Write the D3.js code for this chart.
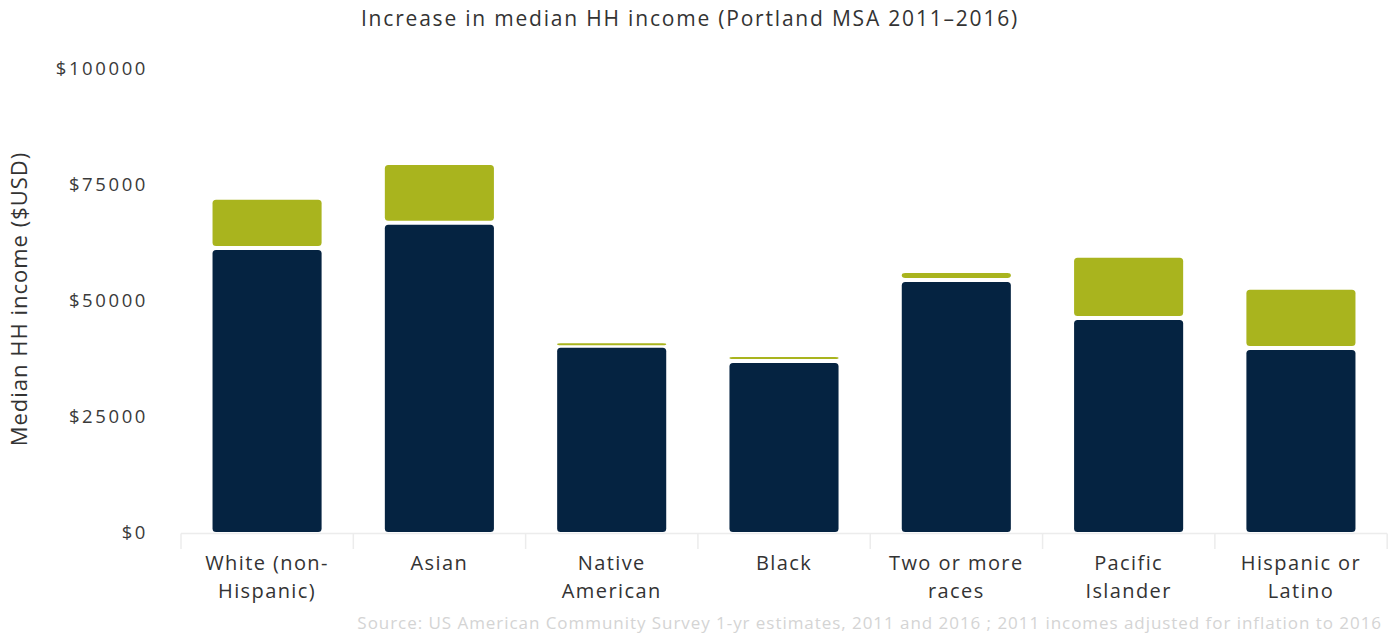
<!DOCTYPE html>
<html>
<head>
<meta charset="utf-8">
<script src="https://cdn.jsdelivr.net/npm/d3@7"></script>
<style>
  html, body { margin: 0; padding: 0; background: #fff; }
  svg { display: block; font-family: "Open Sans", "Noto Sans", sans-serif; }
</style>
</head>
<body>
<svg id="chart" width="1392" height="635"></svg>
<script>
// ---- Data ----
const categories = [
  ["White (non-", "Hispanic)"],
  ["Asian"],
  ["Native", "American"],
  ["Black"],
  ["Two or more", "races"],
  ["Pacific", "Islander"],
  ["Hispanic or", "Latino"]
];
const income2011 = [60800, 66200, 39700, 36400, 53900, 45700, 39200];
const income2016 = [71600, 79100, 40700, 37700, 55800, 59100, 52200];
const yTicks = [0, 25000, 50000, 75000, 100000];

const title = "Increase in median HH income (Portland MSA 2011\u20132016)";
const yTitle = "Median HH income ($USD)";
const source = "Source: US American Community Survey 1-yr estimates, 2011 and 2016 ; 2011 incomes adjusted for inflation to 2016";

// ---- Layout ----
const svg = d3.select("#chart");
const left = 181, right = 1387, y0px = 532, y1px = 68;

const x = d3.scaleBand()
  .domain(d3.range(categories.length))
  .range([left, right])
  .paddingInner(0.367)
  .paddingOuter(0.183);

const y = d3.scaleLinear().domain([0, 100000]).range([y0px, y1px]);

const navy = "#052341";
const olive = "#a9b41e";
const gap = 4;

// Title
svg.append("text")
  .attr("x", 690).attr("y", 26)
  .attr("text-anchor", "middle")
  .attr("font-size", 21)
  .attr("letter-spacing", 1.8)
  .attr("fill", "#333")
  .text(title);

// Y axis label
svg.append("text")
  .attr("transform", "translate(27,299) rotate(-90)")
  .attr("text-anchor", "middle")
  .attr("font-size", 22)
  .attr("letter-spacing", 1.0)
  .attr("fill", "#333")
  .text(yTitle);

// Y axis tick labels (no line)
const yAxis = d3.axisLeft(y).tickValues(yTicks).tickSize(0).tickPadding(0)
  .tickFormat(d => "$" + d);
const gy = svg.append("g").attr("transform", "translate(148,0)").call(yAxis);
gy.select(".domain").remove();
gy.selectAll("text")
  .attr("font-family", "\"Open Sans\", sans-serif")
  .attr("font-size", 18.5)
  .attr("letter-spacing", 2.6)
  .attr("fill", "#3a3a3a")
  .attr("dy", "0.36em");

// X axis: light baseline and separator ticks
const gx = svg.append("g");
gx.append("line")
  .attr("x1", left).attr("x2", right)
  .attr("y1", y(0) + 1.5).attr("y2", y(0) + 1.5)
  .attr("stroke", "#ececec").attr("stroke-width", 1.5);
const step = x.step();
const boundaries = d3.range(categories.length + 1).map(i => left + i * step);
gx.selectAll("line.sep").data(boundaries).enter().append("line")
  .attr("class", "sep")
  .attr("x1", d => d).attr("x2", d => d)
  .attr("y1", y(0) + 1.5).attr("y2", y(0) + 17)
  .attr("stroke", "#ececec").attr("stroke-width", 1.5);

// Bars: 2011 base
svg.append("g").selectAll("rect").data(income2011).enter().append("rect")
  .attr("x", (d, i) => x(i))
  .attr("width", x.bandwidth())
  .attr("y", d => y(d))
  .attr("height", d => y(0) - y(d))
  .attr("rx", 3.5).attr("ry", 3.5)
  .attr("fill", navy);

// Bars: increase to 2016
svg.append("g").selectAll("rect").data(income2016).enter().append("rect")
  .attr("x", (d, i) => x(i))
  .attr("width", x.bandwidth())
  .attr("y", d => y(d))
  .attr("height", (d, i) => Math.max(2, y(income2011[i]) - gap - y(d)))
  .attr("rx", 3.5).attr("ry", 3.5)
  .attr("fill", olive);

// X labels
const xl = svg.append("g");
categories.forEach((lines, i) => {
  const t = xl.append("text")
    .attr("x", x(i) + x.bandwidth() / 2)
    .attr("y", 570)
    .attr("text-anchor", "middle")
    .attr("font-size", 20)
    .attr("letter-spacing", 1.4)
    .attr("fill", "#333");
  lines.forEach((ln, j) => {
    t.append("tspan")
      .attr("x", x(i) + x.bandwidth() / 2)
      .attr("dy", j === 0 ? 0 : 28)
      .text(ln);
  });
});

// Source note
svg.append("text")
  .attr("x", 1382).attr("y", 629)
  .attr("text-anchor", "end")
  .attr("font-size", 17)
  .attr("letter-spacing", 0.95)
  .attr("fill", "#d4d4d4")
  .text(source);
</script>
</body>
</html>
